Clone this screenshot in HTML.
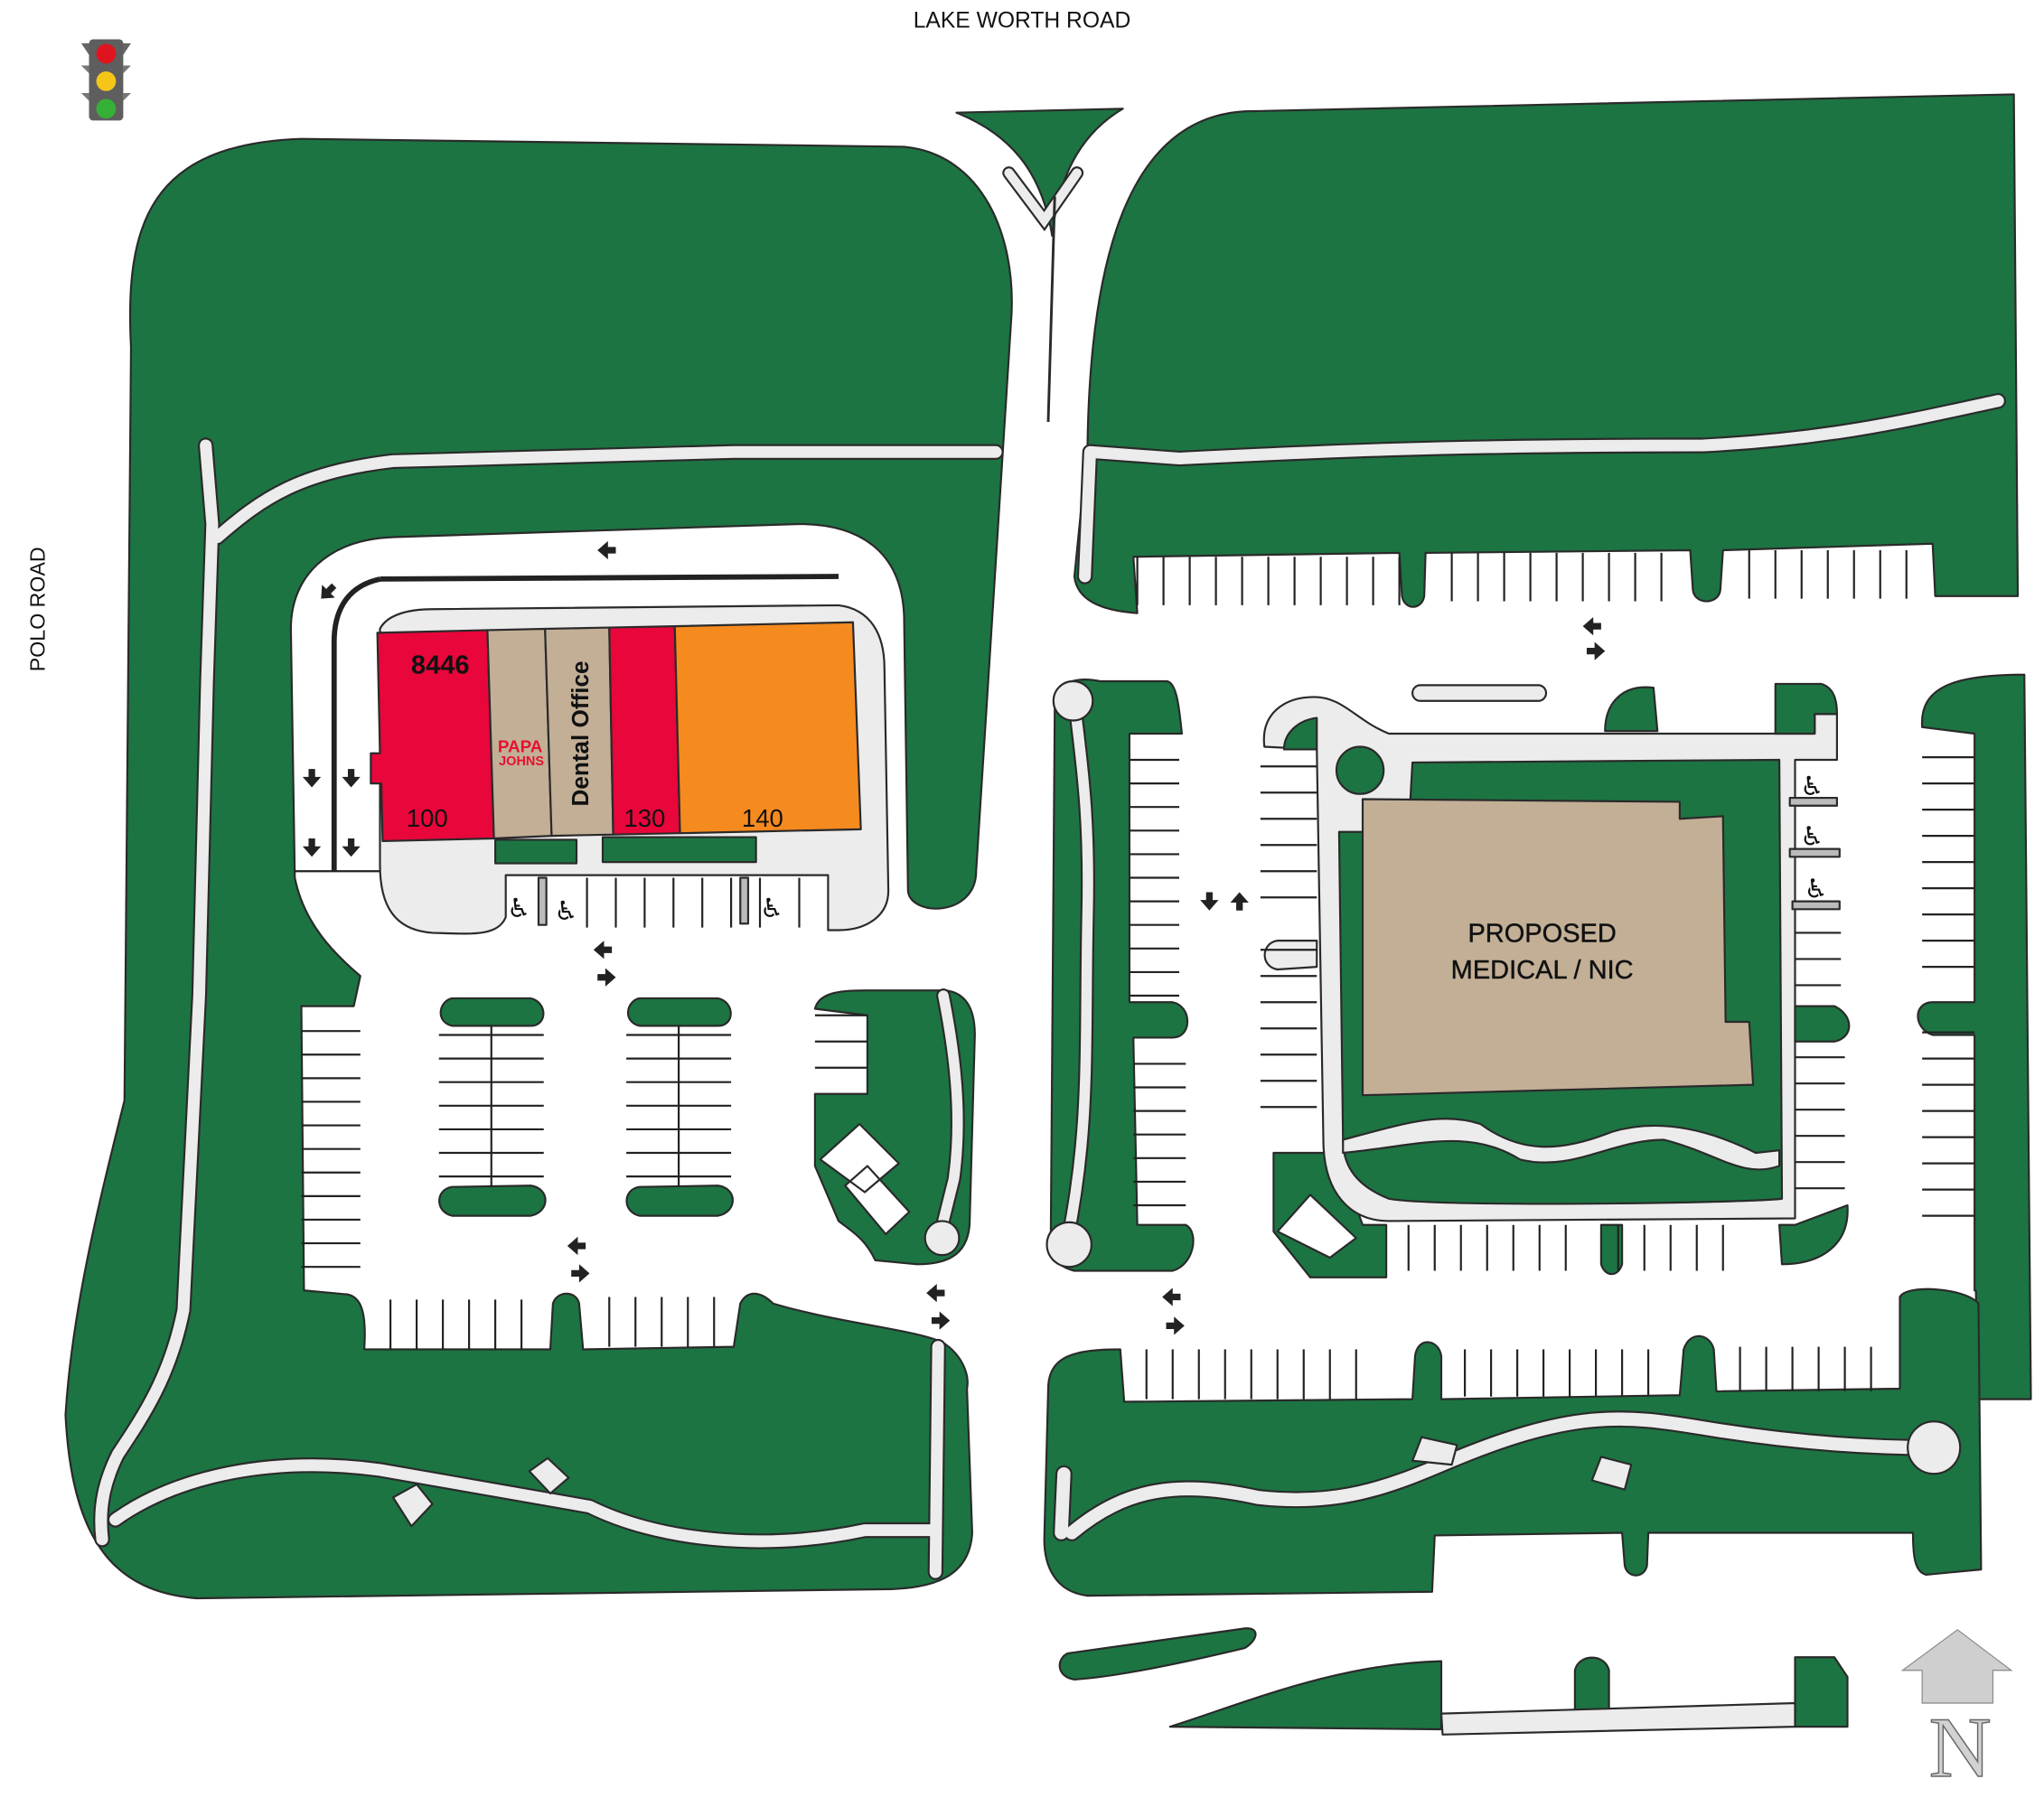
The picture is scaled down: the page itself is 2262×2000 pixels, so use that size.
<!DOCTYPE html>
<html><head><meta charset="utf-8"><style>
html,body{margin:0;padding:0;background:#fff;}
svg{display:block;}
</style></head><body>
<svg xmlns="http://www.w3.org/2000/svg" width="2262" height="2000" viewBox="0 0 1560 1379.3" preserveAspectRatio="none" font-family="Liberation Sans, DejaVu Sans, sans-serif">
<defs>
<path id="ar" d="M-7,-2.5h6v-4.5l8,7l-8,7v-4.5h-6z" fill="#222"/>
</defs>
<g stroke="#2a2a2a" stroke-width="1.5" stroke-linejoin="round">

<path fill="#1c7442" d="M745,665 C745,700 695,700 693,680 L690,470 C688,420 655,400 610,400 L300,410 C250,412 222,440 222,480 L225,670 C232,705 255,728 275,745 L270,768 L230,768 L232,985 L265,988 C275,990 280,1000 278,1030 L420,1030 L422,995 C425,985 440,985 442,995 L445,1030 L560,1028 L565,995 C570,985 580,985 590,995 C640,1010 700,1015 720,1025 C735,1035 740,1050 738,1060 L742,1170 C740,1205 710,1212 680,1213 L150,1220 C90,1215 55,1180 50,1080 C55,1000 75,920 95,840 L100,265 C95,170 115,110 230,106 L690,112 C750,118 775,180 772,240 Z"/>

<path fill="#ececec" d="M290,480 C295,470 310,465 330,465 L640,462 C665,465 675,485 675,510 L678,680 C678,700 660,710 640,710 L632,710 L632,668 L386,668 L386,700 C380,715 360,713 330,712 C300,710 290,690 290,660 Z"/>

<g fill="none" stroke-linecap="round">
<path stroke="#2a2a2a" stroke-width="12" d="M157,340 L162,400 L158,520 L152,760 L140,1000 C130,1050 110,1080 90,1110 C80,1130 75,1150 78,1175 M166,410 C200,380 230,360 300,352 L560,345 L760,345 M88,1160 C130,1130 200,1110 290,1122 L450,1150 C500,1175 580,1185 660,1168 L712,1168 M716,1028 L714,1200"/>
<path stroke="#ececec" stroke-width="9" d="M157,340 L162,400 L158,520 L152,760 L140,1000 C130,1050 110,1080 90,1110 C80,1130 75,1150 78,1175 M166,410 C200,380 230,360 300,352 L560,345 L760,345 M88,1160 C130,1130 200,1110 290,1122 L450,1150 C500,1175 580,1185 660,1168 L712,1168 M716,1028 L714,1200"/>
</g>
<path fill="#ececec" d="M300,1143 L318,1133 L330,1148 L314,1165 Z M404,1123 L418,1113 L434,1128 L420,1140 Z"/>

<path fill="#1c7442" d="M730,86 L857,83 C828,100 808,130 803,180 C795,130 770,102 730,86 Z"/>
<g fill="none" stroke-linecap="round" stroke-linejoin="miter">
<path stroke="#2a2a2a" stroke-width="10" d="M770,132 L797,168 L822,132"/>
<path stroke="#ececec" stroke-width="7" d="M770,132 L797,168 L822,132"/>
</g>
<path fill="none" stroke-width="2" d="M805,150 L800,322"/>

<path fill="#1c7442" d="M830,340 C832,200 860,90 950,85 L1537,72 L1540,455 L1477,455 L1475,415 L1315,420 L1313,450 C1312,462 1293,462 1292,450 L1290,420 L1088,422 L1087,455 C1085,466 1072,466 1070,455 L1068,422 L865,425 L868,468 C840,466 822,458 820,440 Z"/>
<g fill="none" stroke-linecap="round">
<path stroke="#2a2a2a" stroke-width="12" d="M828,440 L832,345 L900,350 C1000,345 1100,340 1300,340 C1400,335 1460,320 1525,306"/>
<path stroke="#ececec" stroke-width="9" d="M828,440 L832,345 L900,350 C1000,345 1100,340 1300,340 C1400,335 1460,320 1525,306"/>
</g>

<path fill="#1c7442" d="M805,540 C805,515 830,518 840,520 L890,520 C898,520 900,540 902,560 L862,560 L862,765 L895,765 C910,768 910,792 895,792 L865,792 L868,935 L905,935 C915,940 912,965 895,970 L820,970 C800,965 800,950 802,940 Z"/>
<g fill="none" stroke-linecap="round">
<path stroke="#2a2a2a" stroke-width="11" d="M820,535 C825,580 832,620 830,700 C828,800 832,860 815,945"/>
<path stroke="#ececec" stroke-width="8" d="M820,535 C825,580 832,620 830,700 C828,800 832,860 815,945"/>
</g>
<circle cx="819" cy="535" r="15" fill="#ececec"/>
<circle cx="816" cy="950" r="17" fill="#ececec"/>

<path fill="#1c7442" d="M972,880 L1020,880 L1040,935 L1058,935 L1058,975 L1000,975 L972,940 Z"/>
<path fill="#ececec" d="M965,570 C962,545 980,532 1003,532 C1025,532 1035,550 1060,560 L1385,560 L1385,545 L1402,545 L1402,580 L1370,580 L1370,930 L1060,932 C1030,932 1010,910 1010,870 L1005,572 Z"/>
<path fill="#1c7442" d="M980,572 C980,560 990,550 1005,548 L1005,572 Z"/>
<path fill="#1c7442" d="M1078,582 L1358,580 L1360,915 C1340,918 1100,922 1060,915 C1035,905 1025,890 1025,870 L1022,635 L1075,635 Z"/>
<circle cx="1038" cy="588" r="18" fill="#1c7442"/>
<path fill="#1c7442" d="M1355,522 L1390,522 C1400,525 1402,535 1402,545 L1385,545 L1385,560 L1355,560 Z M1225,558 C1225,535 1240,522 1262,525 L1265,558 Z"/>
<path fill="#ececec" d="M1025,870 C1070,858 1100,848 1130,858 C1160,880 1190,880 1230,864 C1270,852 1310,865 1340,880 L1358,878 L1358,890 C1330,900 1310,880 1270,870 C1230,870 1200,895 1160,885 C1120,860 1080,875 1025,880 Z"/>
<path fill="#c2af96" d="M1040,610 L1282,612 L1282,625 L1315,623 L1317,780 L1335,780 L1338,828 L1040,836 Z"/>
<rect x="1078" y="523" width="102" height="12" rx="6" fill="#ececec"/>
<path fill="#ececec" d="M975,718 L1005,718 L1005,738 L975,740 C962,738 962,720 975,718 Z"/>
<path fill="#fff" d="M975,940 L1000,912 L1035,945 L1015,960 Z"/>
<path fill="#fff" d="M628,883 L655,858 L688,888 L670,905 Z M650,905 L662,895 L694,928 L680,940 Z"/>

<path fill="#1c7442" d="M1467,555 C1465,525 1490,515 1545,515 L1550,1068 L1510,1068 L1508,985 L1507,985 L1507,790 L1475,790 C1460,785 1460,765 1475,765 L1507,765 L1507,560 Z"/>
<path fill="#1c7442" d="M1370,768 L1400,768 C1415,775 1415,792 1400,795 L1370,795 Z M1370,935 L1410,920 C1412,950 1390,965 1360,965 L1358,935 Z M1222,935 L1238,935 L1238,965 C1235,975 1225,975 1222,965 Z"/>

<rect x="1366" y="609" width="36" height="6" fill="#bbb"/>
<rect x="1366" y="648" width="38" height="6" fill="#bbb"/>
<rect x="1368" y="688" width="36" height="6" fill="#bbb"/>

<path fill="#1c7442" d="M800,1060 C800,1035 820,1030 855,1030 L858,1070 L1078,1068 L1080,1035 C1082,1020 1098,1022 1100,1035 L1100,1068 L1282,1065 L1285,1030 C1290,1015 1305,1018 1308,1030 L1310,1062 L1450,1060 L1450,990 C1455,980 1500,983 1510,995 L1512,1198 L1470,1202 C1462,1200 1460,1190 1460,1170 L1258,1170 L1257,1195 C1255,1205 1242,1205 1240,1195 L1238,1170 L1095,1172 L1093,1215 L830,1218 C805,1215 797,1195 797,1175 Z"/>
<g fill="none" stroke-linecap="round">
<path stroke="#2a2a2a" stroke-width="13" d="M812,1125 L810,1170 M818,1170 C860,1135 900,1130 960,1143 C1020,1150 1060,1135 1100,1118 C1200,1075 1240,1080 1300,1090 C1360,1100 1420,1105 1475,1105"/>
<path stroke="#ececec" stroke-width="10" d="M812,1125 L810,1170 M818,1170 C860,1135 900,1130 960,1143 C1020,1150 1060,1135 1100,1118 C1200,1075 1240,1080 1300,1090 C1360,1100 1420,1105 1475,1105"/>
</g>
<circle cx="1476" cy="1105" r="20" fill="#ececec"/>
<path fill="#ececec" d="M1085,1097 L1112,1103 L1108,1118 L1078,1115 Z M1222,1112 L1245,1118 L1240,1137 L1215,1130 Z"/>

<path fill="#1c7442" d="M815,1262 L950,1243 C962,1242 960,1252 950,1258 C900,1270 850,1280 820,1282 C806,1280 806,1266 815,1262 Z"/>
<path fill="#1c7442" d="M893,1318 C950,1300 1020,1270 1100,1268 L1100,1320 Z"/>
<path fill="#1c7442" d="M1202,1305 L1202,1275 C1205,1262 1225,1262 1228,1275 L1228,1305 Z M1370,1265 L1400,1265 L1410,1280 L1410,1318 L1370,1318 Z"/>
<path fill="#ececec" d="M1100,1308 L1370,1300 L1370,1318 L1101,1324 Z"/>

<path fill="#1c7442" d="M622,770 C625,758 640,756 660,756 L722,756 C737,758 744,770 744,790 L740,935 C738,960 720,965 700,965 L668,962 C660,945 650,940 640,932 L622,890 L622,835 L662,835 L662,775 Z"/>
<g fill="none" stroke-linecap="round">
<path stroke="#2a2a2a" stroke-width="11" d="M720,760 C728,800 735,850 728,900 L718,940"/>
<path stroke="#ececec" stroke-width="8" d="M720,760 C728,800 735,850 728,900 L718,940"/>
</g>
<circle cx="719" cy="945" r="13" fill="#ececec"/>
<path fill="#fff" d="M626,885 L656,858 L686,888 L660,910 Z M645,905 L662,890 L694,925 L676,942 Z"/>

<path fill="#1c7442" d="M345,762 L405,762 C418,765 418,783 405,783 L345,783 C332,780 335,764 345,762 Z M345,906 L405,905 C420,907 420,925 405,928 L345,928 C332,925 332,908 345,906 Z"/>
<path fill="#1c7442" d="M488,762 L548,762 C561,765 561,783 548,783 L488,783 C475,780 478,764 488,762 Z M488,906 L548,905 C563,907 563,925 548,928 L488,928 C475,925 475,908 488,906 Z"/>

<path fill="#e8063a" d="M288,483 L372,481 L377,640 L292,642 L291,598 L283,598 L283,575 L290,575 Z"/>
<path fill="#c2af96" d="M372,481 L416,480 L421,638 L377,640 Z"/>
<path fill="#c2af96" d="M416,480 L465,479 L468,637 L421,638 Z"/>
<path fill="#e8063a" d="M465,479 L515,478 L519,636 L468,637 Z"/>
<path fill="#f58a1f" d="M515,478 L651,475 L657,633 L519,636 Z"/>
<rect x="378" y="641" width="62" height="18" fill="#1c7442"/>
<rect x="460" y="639" width="117" height="19" fill="#1c7442"/>
<rect x="411" y="670" width="6" height="36" fill="#bbb"/>
<rect x="565" y="670" width="6" height="35" fill="#bbb"/>
</g>

<g fill="none" stroke="#222" stroke-width="1.5">
<path d="M868,425v37m20,-37v37m20,-37v37m20,-37v37m20,-37v37m20,-37v37m20,-37v37m20,-37v37m20,-37v37m20,-37v37m20,-37v37"/>
<path d="M1108,422v37m20,-37v37m20,-37v37m20,-37v37m20,-37v37m20,-37v37m20,-37v37m20,-37v37m20,-37v37"/>
<path d="M1335,420v37m20,-37v37m20,-37v37m20,-37v37m20,-37v37m20,-37v37m20,-37v37"/>
<path d="M862,580h38m-38,18h38m-38,18h38m-38,18h38m-38,18h38m-38,18h38m-38,18h38m-38,18h38m-38,18h38m-38,18h38m-38,18h38"/>
<path d="M865,812h40m-40,18h40m-40,18h40m-40,18h40m-40,18h40m-40,18h40m-40,18h40"/>
<path d="M962,585h43m-43,20h43m-43,20h43m-43,20h43m-43,20h43m-43,20h43m-43,40h43m-43,20h43m-43,20h43m-43,20h43m-43,20h43m-43,20h43m-43,20h43"/>
<path d="M1370,712h35m-35,20h35m-35,20h35m-35,55h38m-38,20h38m-38,20h38m-38,20h38m-38,20h38m-38,20h38"/>
<path d="M1467,578h40m-40,20h40m-40,20h40m-40,20h40m-40,20h40m-40,20h40m-40,20h40m-40,20h40m-40,20h40m-40,50h40m-40,20h40m-40,20h40m-40,20h40m-40,20h40m-40,20h40m-40,20h40m-40,20h40"/>
<path d="M1075,935v35m20,-35v35m20,-35v35m20,-35v35m20,-35v35m20,-35v35m20,-35v35m40,-35v35m20,-35v35m20,-35v35m20,-35v35m20,-35v35"/>
<path d="M875,1030v38m20,-38v38m20,-38v38m20,-38v38m20,-38v38m20,-38v38m20,-38v38m20,-38v38m20,-38v38"/>
<path d="M1118,1030v36m20,-36v36m20,-36v36m20,-36v36m20,-36v36m20,-36v36m20,-36v36m20,-36v36"/>
<path d="M1328,1028v34m20,-34v34m20,-34v34m20,-34v34m20,-34v34m20,-34v34"/>
<path d="M230,787h45m-45,18h45m-45,18h45m-45,18h45m-45,18h45m-45,18h45m-45,18h45m-45,18h45m-45,18h45m-45,18h45m-45,18h45"/>
<path d="M335,790h80m-80,18h80m-80,18h80m-80,18h80m-80,18h80m-80,18h80m-80,18h80 M375,783v123"/>
<path d="M478,790h80m-80,18h80m-80,18h80m-80,18h80m-80,18h80m-80,18h80m-80,18h80 M518,783v123"/>
<path d="M298,992v38m20,-38v38m20,-38v38m20,-38v38m20,-38v38m20,-38v38 M465,990v38m20,-38v38m20,-38v38m20,-38v38m20,-38v38"/>
<path d="M622,775h40m-40,20h40m-40,20h40"/>
<path d="M448,670v38m22,-38v38m22,-38v38m22,-38v38m22,-38v38m22,-38v38m22,-38v38 M610,670v38"/>
<path d="M225,665h65"/>
<path stroke-width="4" d="M290,442 L640,440 M290,442 C262,448 255,470 255,490 L255,665"/>
</g>

<use href="#ar" transform="translate(463,420) rotate(180)"/>
<use href="#ar" transform="translate(250,452) rotate(135)"/>
<use href="#ar" transform="translate(238,594) rotate(90)"/>
<use href="#ar" transform="translate(268,594) rotate(90)"/>
<use href="#ar" transform="translate(238,647) rotate(90)"/>
<use href="#ar" transform="translate(268,647) rotate(90)"/>
<use href="#ar" transform="translate(460,725) rotate(180)"/>
<use href="#ar" transform="translate(463,746)"/>
<use href="#ar" transform="translate(440,951) rotate(180)"/>
<use href="#ar" transform="translate(443,972)"/>
<use href="#ar" transform="translate(714,987) rotate(180)"/>
<use href="#ar" transform="translate(718,1008)"/>
<use href="#ar" transform="translate(923,688) rotate(90)"/>
<use href="#ar" transform="translate(946,688) rotate(-90)"/>
<use href="#ar" transform="translate(894,990) rotate(180)"/>
<use href="#ar" transform="translate(897,1012)"/>
<use href="#ar" transform="translate(1215,478) rotate(180)"/>
<use href="#ar" transform="translate(1218,497)"/>

<g font-family="DejaVu Sans, sans-serif" font-size="20" fill="#111">
<text x="387" y="700">♿</text><text x="423" y="702">♿</text><text x="580" y="700">♿</text>
<text x="1374" y="607">♿</text><text x="1374" y="645">♿</text><text x="1377" y="685">♿</text>
</g>

<text x="336" y="514" font-size="20" font-weight="bold" text-anchor="middle" fill="#111">8446</text>
<text x="326" y="631" font-size="19" text-anchor="middle" fill="#111">100</text>
<text x="492" y="631" font-size="19" text-anchor="middle" fill="#111">130</text>
<text x="582" y="631" font-size="19" text-anchor="middle" fill="#111">140</text>
<text x="397" y="574" font-size="13" font-weight="bold" text-anchor="middle" fill="#e8102e">PAPA</text>
<text x="398" y="584" font-size="10" font-weight="bold" text-anchor="middle" fill="#e8102e">JOHNS</text>
<text transform="translate(449,560) rotate(-90)" font-size="18" font-weight="bold" text-anchor="middle" fill="#111">Dental Office</text>
<text x="1177" y="719" font-size="20" text-anchor="middle" fill="#111" stroke="#111" stroke-width="0.3">PROPOSED</text>
<text x="1177" y="747" font-size="20" text-anchor="middle" fill="#111" stroke="#111" stroke-width="0.3">MEDICAL / NIC</text>
<text x="780" y="21" font-size="17" text-anchor="middle" fill="#111">LAKE WORTH ROAD</text>
<text transform="translate(34,465) rotate(-90)" font-size="16" text-anchor="middle" fill="#111">POLO ROAD</text>

<g>
<path d="M62,33 L100,33 L94,42 L94,90 L68,90 L68,42 Z" fill="#666"/>
<rect x="68" y="30" width="26" height="62" rx="3" fill="#5e5e5e"/>
<path d="M62,50 L68,56 L68,50 Z M100,50 L94,56 L94,50 Z M62,71 L68,77 L68,71 Z M100,71 L94,77 L94,71 Z" fill="#777"/>
<circle cx="81" cy="41" r="7.5" fill="#e0141e"/>
<circle cx="81" cy="62" r="7.5" fill="#f5c518"/>
<circle cx="81" cy="83" r="7.5" fill="#35b037"/>
</g>

<path d="M1494,1244 L1535,1275 L1521,1275 L1521,1300 L1467,1300 L1467,1275 L1452,1275 Z" fill="#cfcfcf" stroke="#888" stroke-width="0.8"/>
<text x="1496" y="1356" font-family="Liberation Serif, serif" font-size="66" text-anchor="middle" fill="#d2d2d2" stroke="#666" stroke-width="1">N</text>
</svg>
</body></html>
